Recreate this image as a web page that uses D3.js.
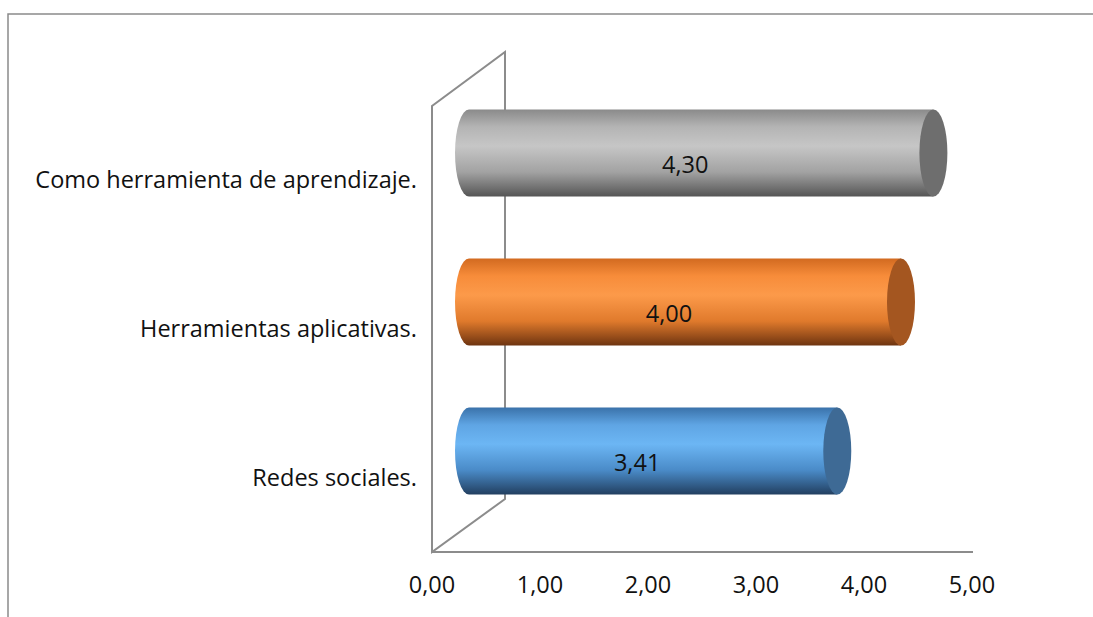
<!DOCTYPE html>
<html>
<head>
<meta charset="utf-8">
<script src="https://cdn.jsdelivr.net/npm/d3@7"></script>
<style>
  html, body { margin: 0; padding: 0; background: #fff; }
  svg { display: block; }
  text { font-family: "Open Sans", Lato, sans-serif; fill: #111; }
</style>
</head>
<body>
<svg id="chart" width="1093" height="617"></svg>
<script>
// Data
const categories = ["Redes sociales.", "Herramientas aplicativas.", "Como herramienta de aprendizaje."];
const values = [3.41, 4.00, 4.30];
const tickValues = [0, 1, 2, 3, 4, 5];

// Cylinder shading per category (top edge, highlight, lower, bottom, end cap)
const palettes = [
  { stops: ["#3a72aa", "#5fa5e4", "#6cb6f4", "#4a8bc8", "#223f60"], cap: "#3e6a95" },
  { stops: ["#d26a20", "#f78c3a", "#fc9a4a", "#e07a2c", "#6e3410"], cap: "#a45620" },
  { stops: ["#8a8a8a", "#b4b4b4", "#c6c6c6", "#a2a2a2", "#555555"], cap: "#6e6e6e" }
];

const fmt = v => d3.format(".2f")(v).replace(".", ",");
const fontSize = 23.5;

const svg = d3.select("#chart");

// Outer frame (top and left edges)
svg.append("path")
  .attr("d", "M8,617 L8,14 L1093,14")
  .attr("fill", "none").attr("stroke", "#8a8a8a").attr("stroke-width", 1.5);

const x = d3.scaleLinear().domain([0, 5]).range([432, 972]);
const y = d3.scalePoint().domain(categories.slice().reverse()).range([153, 451]);

const depth = 73;          // horizontal extent of the back wall offset
const rise = 54;           // vertical extent of the back wall offset
const barOff = 37;         // cylinders sit mid-depth
const barH = 87;
const rx = 14;
const floorY = 552, topY = 106;

// Walls
const g = svg.append("g");
g.append("path")
  .attr("d", `M${x(0)},${floorY} L${x(0)},${topY} L${x(0) + depth},${topY - rise} L${x(0) + depth},${floorY - rise + 1} Z`)
  .attr("fill", "none").attr("stroke", "#8c8c8c").attr("stroke-width", 2).attr("stroke-linejoin", "miter");
g.append("line")
  .attr("x1", x(0)).attr("x2", x(5) + 1).attr("y1", floorY).attr("y2", floorY)
  .attr("stroke", "#8c8c8c").attr("stroke-width", 2);

// Gradients
const defs = svg.append("defs");
palettes.forEach((p, i) => {
  const lg = defs.append("linearGradient").attr("id", "cyl" + i)
    .attr("x1", 0).attr("y1", 0).attr("x2", 0).attr("y2", 1);
  const offs = [0, 0.2, 0.42, 0.72, 1];
  p.stops.forEach((c, k) => lg.append("stop").attr("offset", offs[k]).attr("stop-color", c));
});

// Cylinders
const bars = svg.append("g").selectAll("g").data(categories).join("g");
bars.each(function(cat, i) {
  const gc = d3.select(this);
  const cy = y(cat);
  const top = cy - barH / 2, bot = cy + barH / 2;
  const x0 = x(0) + barOff, x1 = x(values[i]) + barOff;
  const ry = barH / 2;
  gc.append("path")
    .attr("d", `M${x0},${top} L${x1},${top} L${x1},${bot} L${x0},${bot} A${rx},${ry} 0 0 1 ${x0},${top} Z`)
    .attr("fill", `url(#cyl${i})`);
  gc.append("ellipse")
    .attr("cx", x1).attr("cy", cy).attr("rx", rx).attr("ry", ry)
    .attr("fill", palettes[i].cap);
  gc.append("text")
    .attr("x", (x(0) + x(values[i])) / 2 + 21)
    .attr("y", cy + 20)
    .attr("text-anchor", "middle")
    .attr("font-size", fontSize)
    .text(fmt(values[i]));
});

// Category labels
svg.append("g").selectAll("text").data(categories).join("text")
  .attr("x", 417)
  .attr("y", d => y(d) + 35)
  .attr("text-anchor", "end")
  .attr("font-size", fontSize)
  .text(d => d);

// Value axis labels
svg.append("g").selectAll("text").data(tickValues).join("text")
  .attr("x", d => x(d))
  .attr("y", 593)
  .attr("text-anchor", "middle")
  .attr("font-size", fontSize)
  .text(d => fmt(d));
</script>
</body>
</html>
